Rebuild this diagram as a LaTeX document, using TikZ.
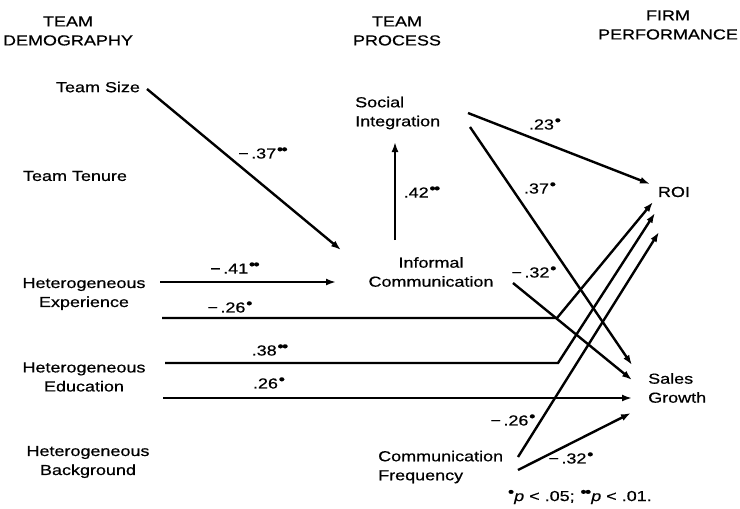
\documentclass[tikz,border=0pt]{standalone}
\usepackage{fontspec}
\setmainfont{Liberation Sans}[FakeStretch=1.24,FakeBold=0.6]
\usetikzlibrary{arrows.meta}
\newcommand\sigA{\kern0.05em\raisebox{0.3em}{\textbullet}}
\newcommand\sigB{\kern0.05em\raisebox{0.3em}{\textbullet\kern-0.12em\textbullet}}
\begin{document}
\begin{tikzpicture}[x=1pt,y=-1pt,
  every node/.style={font=\fontsize{14.5}{19}\selectfont, inner sep=0pt, align=center},
  conn/.style={line width=2.4pt},
  arr/.style={line width=2.4pt, -{Latex[length=10pt,width=7pt]}}]
\useasboundingbox (0,0) rectangle (740,509);
% headers
\node (h1) at (68,31) {TEAM\\DEMOGRAPHY};
\node (h2) at (397,31) {TEAM\\PROCESS};
\node (h3) at (668,25) {FIRM\\PERFORMANCE};
% variables
\node (ts) at (98,87) {Team Size};
\node (tt) at (75,176) {Team Tenure};
\node (he) at (84,294) {Heterogeneous\\Experience};
\node (hd) at (84,377) {Heterogeneous\\Education};
\node (hb) at (88,462) {Heterogeneous\\Background};
\node[anchor=west, align=left] (si) at (355,113) {Social\\Integration};
\node (ic) at (431,272) {Informal\\Communication};
\node[anchor=west, align=left] (cf) at (378,467) {Communication\\Frequency};
\node (roi) at (674,192) {ROI};
\node[anchor=west, align=left] (sg) at (648,388) {Sales\\Growth};
\node[anchor=west] (fn) at (507,497) {\sigA\textit{p} < .05; \sigB\textit{p} < .01.};
% connector endpoints
\coordinate (tsO) at (147,89);
\coordinate (icInL) at (341,250);
\coordinate (icOutT) at (395,240);
\coordinate (siIn) at (395,142);
\coordinate (siO1) at (468,113);
\coordinate (siO2) at (470,127);
\coordinate (roiIn1) at (650,184);
\coordinate (roiIn2) at (653,202);
\coordinate (roiIn3) at (655,213);
\coordinate (roiIn4) at (659,232);
\coordinate (sgIn1) at (632,365);
\coordinate (sgIn2) at (632,380);
\coordinate (sgIn3) at (632,398);
\coordinate (sgIn4) at (631,413);
\coordinate (icO) at (513,283);
\coordinate (heO1) at (160,282);
\coordinate (icInH) at (336,282);
\coordinate (heO2) at (162,318);
\coordinate (k1) at (557,318);
\coordinate (hdO1) at (165,363);
\coordinate (k2) at (558,363);
\coordinate (hdO2) at (163,398);
\coordinate (cfO1) at (518,457);
\coordinate (cfO2) at (518,470);
% connectors
\draw[arr] (tsO) -- (icInL);
\draw[arr] (icOutT) -- (siIn);
\draw[arr] (siO1) -- (roiIn1);
\draw[arr] (siO2) -- (sgIn1);
\draw[arr] (icO) -- (sgIn2);
\draw[arr] (heO1) -- (icInH);
\draw[arr] (heO2) -- (k1) -- (roiIn2);
\draw[arr] (hdO1) -- (k2) -- (roiIn3);
\draw[arr] (hdO2) -- (sgIn3);
\draw[arr] (cfO1) -- (roiIn4);
\draw[arr] (cfO2) -- (sgIn4);
% coefficient labels
\node (l1) at (263,153) {−\,.37\sigB};
\node (l2) at (422,192) {.42\sigB};
\node (l3) at (545,124) {.23\sigA};
\node (l4) at (540,188) {.37\sigA};
\node (l5) at (534,272) {−\,.32\sigA};
\node (l6) at (235,268) {−\,.41\sigB};
\node (l7) at (230,307) {−\,.26\sigA};
\node (l8) at (270,350) {.38\sigB};
\node (l9) at (269,383) {.26\sigA};
\node (l10) at (513,420) {−\,.26\sigA};
\node (l11) at (571,458) {−\,.32\sigA};
\end{tikzpicture}
\end{document}
